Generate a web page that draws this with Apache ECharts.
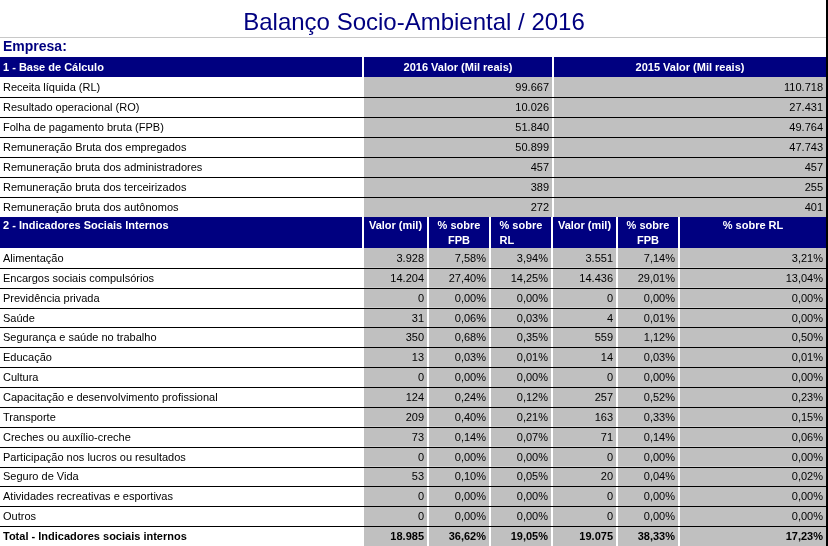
<!DOCTYPE html>
<html><head><meta charset="utf-8">
<script src="https://cdn.jsdelivr.net/npm/echarts@6/dist/echarts.min.js"></script>
<style>html,body{margin:0;padding:0;background:#fff}#c{width:828px;height:546px}</style>
</head><body><div id="c"></div>
<script>
// ---------- DATA ----------
const titleText = 'Balanço Socio-Ambiental / 2016';
const companyLabel = 'Empresa:';

const sec1Headers = ['1 - Base de Cálculo', '2016 Valor (Mil reais)', '2015 Valor (Mil reais)'];
const sec1Labels = [
  'Receita líquida (RL)',
  'Resultado operacional (RO)',
  'Folha de pagamento bruta (FPB)',
  'Remuneração Bruta dos empregados',
  'Remuneração bruta dos administradores',
  'Remuneração bruta dos terceirizados',
  'Remuneração bruta dos autônomos'
];
const sec1Val2016 = [99667, 10026, 51840, 50899, 457, 389, 272];
const sec1Val2015 = [110718, 27431, 49764, 47743, 457, 255, 401];

const sec2Headers = ['2 - Indicadores Sociais Internos', 'Valor (mil)', '% sobre\nFPB', '% sobre\nRL', 'Valor (mil)', '% sobre\nFPB', '% sobre RL'];
const sec2Labels = [
  'Alimentação',
  'Encargos sociais compulsórios',
  'Previdência privada',
  'Saúde',
  'Segurança e saúde no trabalho',
  'Educação',
  'Cultura',
  'Capacitação e desenvolvimento profissional',
  'Transporte',
  'Creches ou auxílio-creche',
  'Participação nos lucros ou resultados',
  'Seguro de Vida',
  'Atividades recreativas e esportivas',
  'Outros',
  'Total - Indicadores sociais internos'
];
const val2016 = [3928, 14204, 0, 31, 350, 13, 0, 124, 209, 73, 0, 53, 0, 0, 18985];
const fpb2016 = [7.58, 27.40, 0.00, 0.06, 0.68, 0.03, 0.00, 0.24, 0.40, 0.14, 0.00, 0.10, 0.00, 0.00, 36.62];
const rl2016  = [3.94, 14.25, 0.00, 0.03, 0.35, 0.01, 0.00, 0.12, 0.21, 0.07, 0.00, 0.05, 0.00, 0.00, 19.05];
const val2015 = [3551, 14436, 0, 4, 559, 14, 0, 257, 163, 71, 0, 20, 0, 0, 19075];
const fpb2015 = [7.14, 29.01, 0.00, 0.01, 1.12, 0.03, 0.00, 0.52, 0.33, 0.14, 0.00, 0.04, 0.00, 0.00, 38.33];
const rl2015  = [3.21, 13.04, 0.00, 0.00, 0.50, 0.01, 0.00, 0.23, 0.15, 0.06, 0.00, 0.02, 0.00, 0.00, 17.23];

// ---------- LAYOUT / STYLE ----------
const FONT = '"Liberation Sans", Arial, sans-serif';
const NAVY = '#000080';
const GREY = '#c0c0c0';
const TABLE_W = 826;
const COLS1 = [0, 362, 552, 826];
const COLS2 = [0, 362, 427, 489, 551, 616, 678, 826];

const fmtInt = n => String(n).replace(/\B(?=(\d{3})+(?!\d))/g, '.');
const fmtPct = p => p.toFixed(2).replace('.', ',') + '%';

const sec1Cols = [null, sec1Val2016.map(fmtInt), sec1Val2015.map(fmtInt)];
const sec2Cols = [null, val2016.map(fmtInt), fpb2016.map(fmtPct), rl2016.map(fmtPct),
                  val2015.map(fmtInt), fpb2015.map(fmtPct), rl2015.map(fmtPct)];
const lastRow2 = sec2Labels.length - 1;

function cellBox(api, cols) {
  const c = api.value(0), r = api.value(1);
  const p0 = api.coord([cols[c], r]);
  const p1 = api.coord([cols[c + 1], r]);
  const h = api.size([0, 1])[1];
  return { c, r, x0: p0[0], x1: p1[0], yc: p0[1], yTop: p0[1] - h / 2, h };
}

function headerRenderer(cols, texts, twoLine) {
  return function (params, api) {
    const b = cellBox(api, cols);
    const gap = b.c > 0 ? 2 : 0;
    const children = [{
      type: 'rect',
      shape: { x: b.x0 + gap, y: b.yTop, width: b.x1 - b.x0 - gap, height: b.h },
      style: { fill: NAVY }
    }];
    const t = texts[b.c];
    let x, align;
    if (b.c === 0) { x = b.x0 + 3; align = 'left'; }
    else if (twoLine && t === '% sobre\nRL') { x = (b.x0 + gap + b.x1) / 2 - 21.5; align = 'left'; }
    else { x = (b.x0 + gap + b.x1) / 2; align = 'center'; }
    children.push({
      type: 'text',
      style: {
        text: t, x: x,
        y: twoLine ? b.yTop + 1 : b.yc + 0.5,
        align: align, verticalAlign: twoLine ? 'top' : 'middle',
        fontFamily: FONT, fontSize: 11, fontWeight: 'bold', lineHeight: 15,
        fill: '#fff'
      }
    });
    return { type: 'group', children };
  };
}

function bodyRenderer(cols, colTexts, boldRow) {
  return function (params, api) {
    const b = cellBox(api, cols);
    return {
      type: 'group',
      children: [
        { type: 'rect', shape: { x: b.x0 + 2, y: b.yTop, width: b.x1 - b.x0 - 2, height: b.h }, style: { fill: GREY } },
        { type: 'text', style: {
            text: colTexts[b.c][b.r], x: b.x1 - 3, y: b.yc + 1,
            align: 'right', verticalAlign: 'middle',
            fontFamily: FONT, fontSize: 11, fontWeight: b.r === boldRow ? 'bold' : 'normal',
            fill: '#000' } }
      ]
    };
  };
}

function lineRenderer(params, api) {
  const r = api.value(0);
  const pL = api.coord([0, r]);
  const pR = api.coord([TABLE_W, r]);
  const h = api.size([0, 1])[1];
  const y = Math.round(pL[1] - h / 2) + 0.5;
  return { type: 'line', shape: { x1: pL[0], y1: y, x2: pR[0], y2: y }, style: { stroke: '#000', lineWidth: 1 } };
}

function cellData(nRows, nCols) {
  const d = [];
  for (let r = 0; r < nRows; r++) for (let c = 1; c < nCols; c++) d.push([c, r]);
  return d;
}
function rowLines(nRows) {
  const d = [];
  for (let r = 1; r < nRows; r++) d.push([r]);
  return d;
}

const labelAxis = (data, gi, show) => ({
  type: 'category', gridIndex: gi, data: data, inverse: true,
  axisLine: { show: false }, axisTick: { show: false }, splitLine: { show: false },
  axisLabel: {
    show: show, inside: true, margin: 3, fontFamily: FONT, fontSize: 11, color: '#000',
    padding: [2, 0, 0, 0],
    formatter: v => v.indexOf('Total') === 0 ? '{b|' + v + '}' : v,
    rich: { b: { fontFamily: FONT, fontSize: 11, fontWeight: 'bold', color: '#000' } }
  }
});
const posAxis = gi => ({ type: 'value', gridIndex: gi, min: 0, max: TABLE_W, show: false });

const option = {
  animation: false,
  backgroundColor: '#fff',
  title: [
    { text: titleText, left: 'center', top: 6,
      textStyle: { fontFamily: FONT, fontSize: 24, fontWeight: 'normal', color: NAVY } },
    { text: companyLabel, left: 3, top: 40, padding: 0,
      textStyle: { fontFamily: FONT, fontSize: 14, fontWeight: 'bold', color: NAVY } }
  ],
  grid: [
    { left: 0, top: 57, width: TABLE_W, height: 20 },
    { left: 0, top: 77, width: TABLE_W, height: 140 },
    { left: 0, top: 217, width: TABLE_W, height: 31 },
    { left: 0, top: 248, width: TABLE_W, height: 300 }
  ],
  xAxis: [posAxis(0), posAxis(1), posAxis(2), posAxis(3)],
  yAxis: [
    labelAxis(['h1'], 0, false),
    labelAxis(sec1Labels, 1, true),
    labelAxis(['h2'], 2, false),
    labelAxis(sec2Labels, 3, true)
  ],
  graphic: [
    { type: 'line', shape: { x1: 0, y1: 37.5, x2: TABLE_W, y2: 37.5 }, style: { stroke: '#c8c8c8', lineWidth: 1 }, z: 10 },
    { type: 'rect', shape: { x: TABLE_W, y: 0, width: 2, height: 546 }, style: { fill: '#000' }, z: 10 }
  ],
  series: [
    { type: 'custom', xAxisIndex: 0, yAxisIndex: 0, z: 2, silent: true,
      data: sec1Headers.map((t, i) => [i, 0]), renderItem: headerRenderer(COLS1, sec1Headers, false) },
    { type: 'custom', xAxisIndex: 1, yAxisIndex: 1, z: 2, silent: true,
      data: cellData(sec1Labels.length, COLS1.length - 1), renderItem: bodyRenderer(COLS1, sec1Cols, -1) },
    { type: 'custom', xAxisIndex: 1, yAxisIndex: 1, z: 3, silent: true,
      data: rowLines(sec1Labels.length), renderItem: lineRenderer },
    { type: 'custom', xAxisIndex: 2, yAxisIndex: 2, z: 2, silent: true,
      data: sec2Headers.map((t, i) => [i, 0]), renderItem: headerRenderer(COLS2, sec2Headers, true) },
    { type: 'custom', xAxisIndex: 3, yAxisIndex: 3, z: 2, silent: true,
      data: cellData(sec2Labels.length, COLS2.length - 1), renderItem: bodyRenderer(COLS2, sec2Cols, lastRow2) },
    { type: 'custom', xAxisIndex: 3, yAxisIndex: 3, z: 3, silent: true,
      data: rowLines(sec2Labels.length), renderItem: lineRenderer }
  ]
};

const chart = echarts.init(document.getElementById('c'), null, { renderer: 'canvas' });
chart.setOption(option);
</script>
</body></html>
